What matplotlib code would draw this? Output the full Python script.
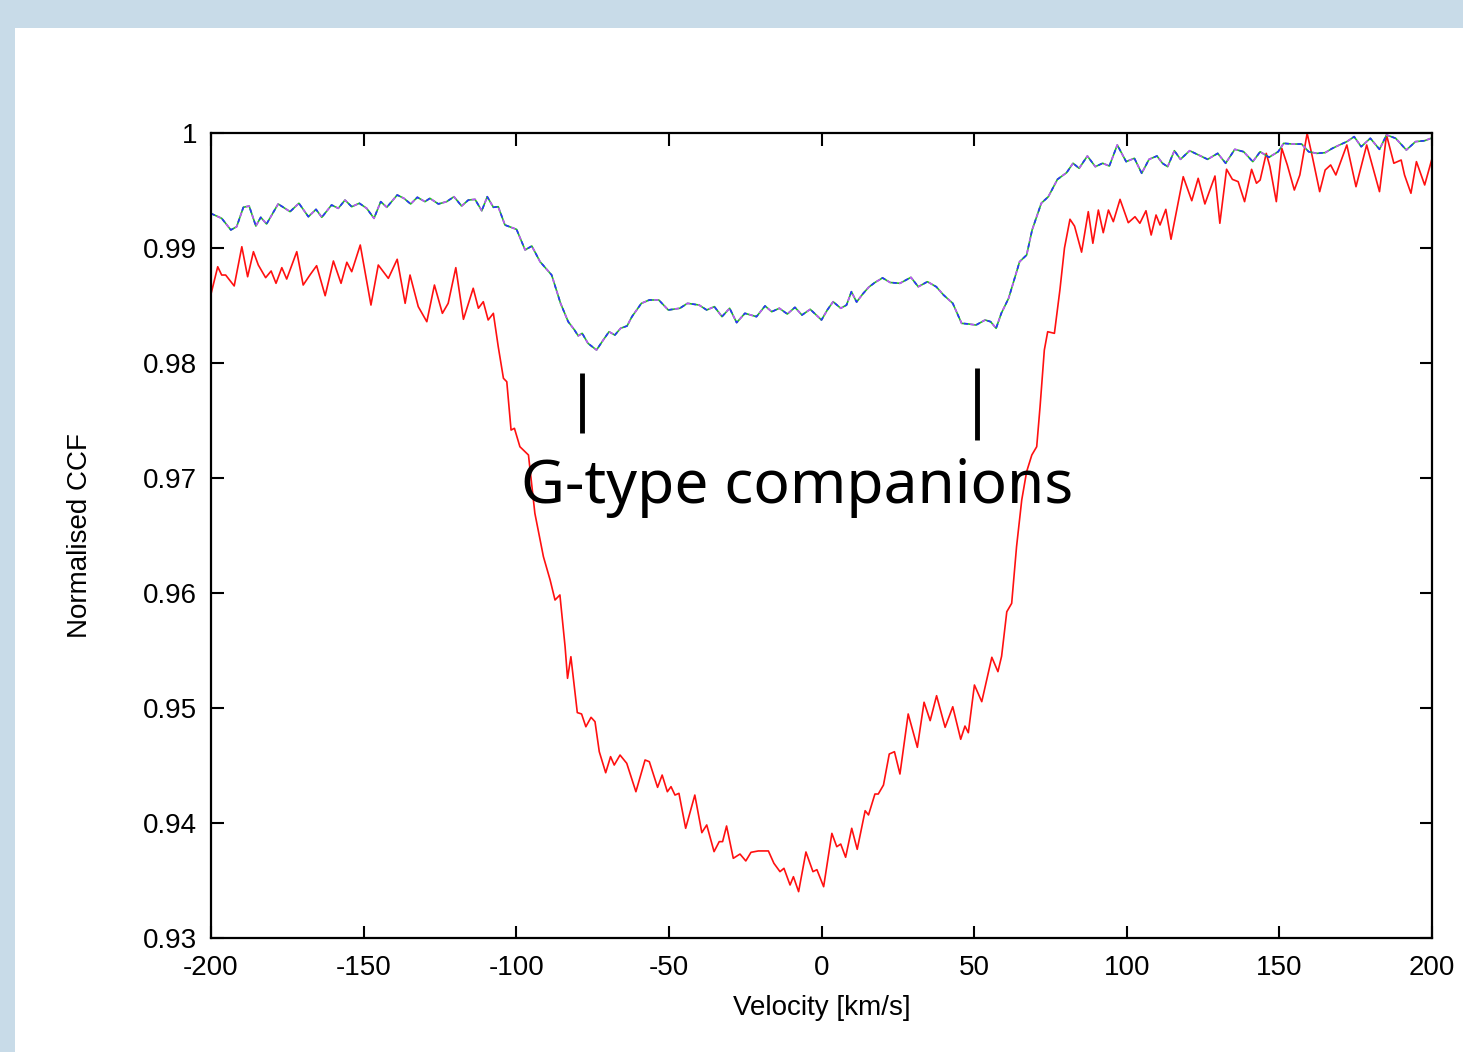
import numpy as np
import matplotlib.pyplot as plt
from matplotlib.patches import Rectangle

v_red = [-200.0, -197.8, -196.5, -195.2, -192.4, -189.9, -188.0, -186.1, -184.5, -182.1,
         -180.3, -178.7, -176.8, -175.2, -171.9, -169.8, -167.6, -165.4, -162.6, -159.9,
         -157.4, -155.5, -153.9, -151.1, -147.6, -145.2, -141.9, -139.0, -136.4, -134.8,
         -132.1, -129.3, -126.8, -124.2, -122.3, -119.8, -117.3, -114.1, -112.4, -110.8,
         -109.2, -107.5, -105.9, -104.2, -103.1, -101.7, -100.6, -98.8, -96.0, -93.9,
         -91.1, -88.9, -87.3, -85.7, -84.0, -83.2, -82.1, -80.0, -78.6, -77.2,
         -75.5, -74.2, -72.8, -70.7, -69.1, -67.9, -66.0, -63.8, -60.8, -57.8,
         -56.4, -53.7, -52.2, -50.5, -49.3, -48.0, -46.7, -44.5, -41.5, -39.2,
         -37.6, -35.2, -33.5, -32.4, -31.1, -28.9, -26.7, -24.8, -23.1, -20.7,
         -17.4, -15.6, -13.6, -12.3, -10.3, -9.2, -7.5, -5.1, -2.8, -1.5,
         0.7, 3.4, 5.0, 6.3, 7.9, 9.9, 11.7, 14.3, 15.4, 17.5,
         18.6, 20.3, 22.2, 23.9, 25.7, 28.4, 31.4, 33.6, 35.6, 37.7,
         40.5, 43.0, 45.6, 47.0, 48.1, 50.1, 52.5, 55.8, 57.8, 59.0,
         60.7, 62.3, 63.9, 65.6, 67.2, 68.9, 70.5, 71.6, 73.0, 74.1,
         76.3, 78.1, 79.6, 81.4, 82.9, 85.2, 87.4, 88.9, 90.7, 92.3,
         94.0, 95.6, 97.8, 100.5, 102.7, 104.3, 106.3, 108.0, 109.6, 110.9,
         112.8, 114.5, 118.5, 121.3, 123.4, 125.6, 128.9, 130.5, 132.7, 134.6,
         136.5, 138.6, 140.9, 142.5, 143.7, 145.7, 146.9, 149.0, 150.8, 152.6,
         154.9, 156.7, 159.1, 160.8, 163.2, 165.0, 166.8, 168.5, 170.3, 172.1,
         175.1, 178.6, 182.8, 185.1, 187.5, 189.9, 191.0, 193.1, 194.9, 197.6,
         200.0]
ccf_red = [0.98600, 0.98837, 0.98765, 0.98765, 0.98670, 0.99011, 0.98750, 0.98968, 0.98852, 0.98742,
           0.98800, 0.98693, 0.98829, 0.98730, 0.98968, 0.98678, 0.98765, 0.98846, 0.98585, 0.98887,
           0.98693, 0.98876, 0.98794, 0.99026, 0.98504, 0.98852, 0.98736, 0.98902, 0.98519, 0.98765,
           0.98490, 0.98359, 0.98678, 0.98432, 0.98519, 0.98829, 0.98380, 0.98650, 0.98476, 0.98533,
           0.98374, 0.98432, 0.98142, 0.97867, 0.97837, 0.97417, 0.97432, 0.97272, 0.97200, 0.96693,
           0.96316, 0.96113, 0.95939, 0.95983, 0.95533, 0.95258, 0.95446, 0.94960, 0.94948, 0.94837,
           0.94919, 0.94881, 0.94620, 0.94437, 0.94577, 0.94504, 0.94591, 0.94519, 0.94272, 0.94548,
           0.94533, 0.94310, 0.94417, 0.94272, 0.94316, 0.94243, 0.94258, 0.93954, 0.94243, 0.93916,
           0.93983, 0.93751, 0.93838, 0.93838, 0.93974, 0.93693, 0.93730, 0.93670, 0.93745, 0.93757,
           0.93757, 0.93650, 0.93577, 0.93606, 0.93461, 0.93533, 0.93403, 0.93748, 0.93577, 0.93594,
           0.93446, 0.93910, 0.93794, 0.93817, 0.93702, 0.93954, 0.93771, 0.94107, 0.94070, 0.94252,
           0.94252, 0.94330, 0.94600, 0.94620, 0.94426, 0.94948, 0.94658, 0.95050, 0.94890, 0.95107,
           0.94832, 0.95011, 0.94728, 0.94843, 0.94785, 0.95200, 0.95055, 0.95441, 0.95316, 0.95450,
           0.95837, 0.95910, 0.96403, 0.96809, 0.97055, 0.97200, 0.97272, 0.97620, 0.98113, 0.98272,
           0.98258, 0.98635, 0.99000, 0.99250, 0.99190, 0.98964, 0.99316, 0.99041, 0.99330, 0.99133,
           0.99330, 0.99229, 0.99423, 0.99220, 0.99272, 0.99215, 0.99324, 0.99113, 0.99287, 0.99200,
           0.99336, 0.99076, 0.99620, 0.99411, 0.99606, 0.99383, 0.99626, 0.99215, 0.99685, 0.99597,
           0.99577, 0.99403, 0.99684, 0.99563, 0.99591, 0.99823, 0.99707, 0.99403, 0.99867, 0.99722,
           0.99504, 0.99635, 0.99997, 0.99794, 0.99490, 0.99678, 0.99722, 0.99635, 0.99765, 0.99896,
           0.99533, 0.99896, 0.99490, 0.99983, 0.99737, 0.99765, 0.99635, 0.99476, 0.99751, 0.99548,
           0.99777]

v_comp = [-200.0, -196.5, -193.5, -191.6, -189.4, -187.5, -185.3, -183.7, -181.8, -178.0,
          -174.1, -171.2, -168.1, -165.6, -163.7, -160.5, -158.3, -156.1, -153.9, -151.4,
          -149.0, -146.6, -144.4, -142.4, -139.0, -136.8, -134.6, -132.4, -129.9, -128.3,
          -125.5, -122.8, -120.4, -117.9, -115.7, -113.5, -111.3, -109.5, -107.5, -105.9,
          -103.7, -99.9, -97.1, -94.9, -92.2, -88.4, -85.5, -83.0, -81.0, -79.7,
          -78.4, -76.5, -73.7, -71.5, -69.6, -67.7, -65.8, -63.7, -62.1, -59.0,
          -56.4, -53.3, -50.2, -46.4, -43.9, -40.1, -37.6, -35.1, -32.6, -30.1,
          -27.8, -25.1, -21.3, -18.5, -16.3, -13.8, -11.2, -8.7, -6.4, -3.7,
          0.0, 1.9, 3.8, 6.3, 8.2, 9.8, 11.5, 13.5, 15.5, 17.5,
          20.0, 22.5, 25.7, 29.3, 31.7, 34.7, 37.6, 40.0, 43.0, 45.9,
          48.3, 50.6, 53.6, 55.4, 57.2, 58.9, 61.3, 64.9, 67.2, 69.0,
          72.0, 74.3, 77.3, 80.3, 82.4, 84.4, 87.1, 89.7, 92.1, 94.3,
          96.9, 99.8, 102.5, 104.9, 107.3, 109.9, 111.7, 113.4, 115.6, 117.6,
          120.6, 123.5, 126.5, 129.8, 132.4, 135.4, 138.3, 141.3, 143.7, 146.6,
          149.6, 151.4, 154.3, 157.3, 159.6, 162.3, 165.0, 167.4, 169.7, 172.1,
          174.5, 176.8, 179.8, 182.8, 185.1, 188.1, 191.6, 194.6, 197.6, 200.0]
ccf_comp = [0.99300, 0.99258, 0.99157, 0.99185, 0.99354, 0.99365, 0.99191, 0.99267, 0.99209, 0.99383,
            0.99316, 0.99389, 0.99272, 0.99336, 0.99267, 0.99374, 0.99345, 0.99417, 0.99359, 0.99389,
            0.99345, 0.99258, 0.99403, 0.99354, 0.99461, 0.99432, 0.99383, 0.99441, 0.99403, 0.99432,
            0.99383, 0.99403, 0.99446, 0.99365, 0.99417, 0.99423, 0.99324, 0.99446, 0.99354, 0.99359,
            0.99200, 0.99162, 0.98983, 0.99017, 0.98881, 0.98765, 0.98520, 0.98360, 0.98290, 0.98236,
            0.98258, 0.98171, 0.98113, 0.98200, 0.98272, 0.98243, 0.98302, 0.98322, 0.98403, 0.98519,
            0.98548, 0.98548, 0.98461, 0.98476, 0.98519, 0.98504, 0.98461, 0.98490, 0.98403, 0.98476,
            0.98351, 0.98432, 0.98403, 0.98496, 0.98446, 0.98476, 0.98426, 0.98484, 0.98417, 0.98467,
            0.98374, 0.98461, 0.98533, 0.98476, 0.98504, 0.98620, 0.98530, 0.98600, 0.98660, 0.98700,
            0.98740, 0.98700, 0.98693, 0.98745, 0.98663, 0.98707, 0.98663, 0.98591, 0.98519, 0.98345,
            0.98339, 0.98330, 0.98374, 0.98359, 0.98302, 0.98432, 0.98563, 0.98881, 0.98939, 0.99157,
            0.99389, 0.99446, 0.99597, 0.99655, 0.99737, 0.99693, 0.99800, 0.99707, 0.99737, 0.99713,
            0.99896, 0.99751, 0.99780, 0.99650, 0.99771, 0.99800, 0.99737, 0.99707, 0.99846, 0.99771,
            0.99846, 0.99809, 0.99771, 0.99823, 0.99737, 0.99858, 0.99837, 0.99751, 0.99837, 0.99789,
            0.99837, 0.99910, 0.99904, 0.99904, 0.99837, 0.99823, 0.99829, 0.99867, 0.99896, 0.99925,
            0.99968, 0.99881, 0.99954, 0.99858, 0.99983, 0.99954, 0.99852, 0.99925, 0.99933, 0.99957]

# companion markers: velocity, bar bottom, bar top
comp_v = [-78.5, 50.9]
comp_lo = [0.97391, 0.97330]
comp_hi = [0.97913, 0.97957]

xticks = [-200, -150, -100, -50, 0, 50, 100, 150, 200]
yticks = [0.93, 0.94, 0.95, 0.96, 0.97, 0.98, 0.99, 1.0]
ylabels = ['0.93', '0.94', '0.95', '0.96', '0.97', '0.98', '0.99', '1']

plt.rcParams['font.family'] = ['Liberation Sans', 'DejaVu Sans']
plt.rcParams['axes.unicode_minus'] = False

fig = plt.figure(figsize=(14.63, 10.52), dpi=100, facecolor='#c8dbe8')
fig.patches.append(Rectangle((15/1463, 0), 1, 1 - 28/1052, transform=fig.transFigure,
                             facecolor='white', edgecolor='none', zorder=-10))
ax = fig.add_axes([211/1463, 1 - 938/1052, 1221/1463, 805/1052])

ax.plot(v_red, ccf_red, color='#ff1010', lw=1.2, solid_joinstyle='round')
ax.plot(v_comp, ccf_comp, color='#20c020', lw=1.2, solid_joinstyle='round')
ax.plot(v_comp, ccf_comp, color='#3030ff', lw=1.2, linestyle=(0, (2.5, 5)))
ax.plot(v_comp, ccf_comp, color='#c050ff', lw=1.2, linestyle=(3.7, (2.5, 5)))

for v, lo, hi in zip(comp_v, comp_lo, comp_hi):
    ax.plot([v, v], [lo, hi], color='black', lw=3.5, solid_capstyle='butt')
ax.text(-8.0, 0.96783, 'G-type companions', fontsize=43.5, family='Noto Sans',
        ha='center', va='baseline')

ax.set_xlim(-200, 200)
ax.set_ylim(0.93, 1.0)
ax.set_xticks(xticks)
ax.set_yticks(yticks)
ax.set_yticklabels(ylabels)
ax.tick_params(direction='in', top=True, right=True, length=9, width=1.5,
               labelsize=20, pad=10)
ax.tick_params(axis='x', pad=12)
for s in ax.spines.values():
    s.set_linewidth(1.6)

ax.set_xlabel('Velocity [km/s]', fontsize=20)
ax.set_ylabel('Normalised CCF', fontsize=20)
ax.xaxis.set_label_coords(0.5, -0.071)
ax.yaxis.set_label_coords(-0.097, 0.5)

fig.savefig('out.png', dpi=100, facecolor=fig.get_facecolor())
